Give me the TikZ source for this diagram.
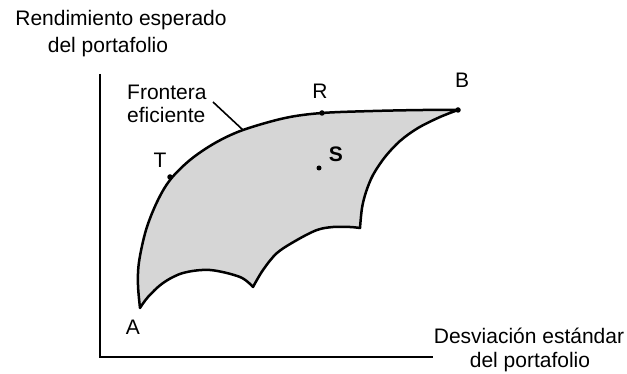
\documentclass[tikz,border=0pt]{standalone}
\usepackage{fontspec}
\setmainfont{Liberation Sans}
\begin{document}
\begin{tikzpicture}[x=1pt,y=-1pt,
  lbl/.style={inner sep=0pt,font=\fontsize{21}{25}\selectfont},
  axisline/.style={line width=1.9pt},
  edge/.style={line width=2.5pt,line join=round},
  dot/.style={circle,fill=black,inner sep=0pt,minimum size=5.5pt}]
\useasboundingbox (0,0) rectangle (627,374);
% titles
\node[lbl] (yt1) at (121,20) {Rendimiento esperado};
\node[lbl] (yt2) at (108,47) {del portafolio};
\node[lbl] (xt1) at (529,336) {Desviación estándar};
\node[lbl] (xt2) at (530,362) {del portafolio};
% axes
\coordinate (ytop) at (100,74);
\coordinate (orig) at (100,357);
\coordinate (xend) at (433,357);
\draw[axisline] (ytop) -- (orig) -- (xend);
% region
\filldraw[edge,fill=gray!32]
  plot[smooth,tension=0.55] coordinates {(140,308) (138,285) (139,262) (146,230) (157,202) (170,180) (190,160) (215,143) (243,130) (285,118) (322,113) (373,111) (423,110) (458,110)}
  -- plot[smooth,tension=0.55] coordinates {(458,110) (440,117) (418,128) (400,141) (385,157) (373,175) (366,192) (362,208) (360,228)}
  -- plot[smooth,tension=0.55] coordinates {(360,228) (350,227) (333,227) (317,230) (297,240) (277,253) (263,270) (253,287)}
  -- plot[smooth,tension=0.55] coordinates {(253,287) (240,277) (210,270) (183,273) (163,283) (148,297) (140,308)}
  -- cycle;
% points
\node[dot] (T) at (170,177) {};
\node[dot] (R) at (322,113) {};
\node[dot] (B) at (458,110) {};
\node[dot,minimum size=5pt] (S) at (319,168) {};
\node[lbl] (Tl) at (160,160) {T};
\node[lbl] (Rl) at (320,91) {R};
\node[lbl] (Bl) at (462,80) {B};
\node[lbl,font=\fontsize{21}{25}\selectfont\bfseries] (Sl) at (336,154) {S};
\node[lbl] (Al) at (133,327) {A};
% frontier label
\node[lbl,anchor=west] (fr1) at (127,92) {Frontera};
\node[lbl,anchor=west] (fr2) at (127,115) {eficiente};
\coordinate (ls) at (213,102);
\coordinate (fe) at (243,130);
\draw[line width=1.6pt] (ls) -- (fe);
\end{tikzpicture}
\end{document}
